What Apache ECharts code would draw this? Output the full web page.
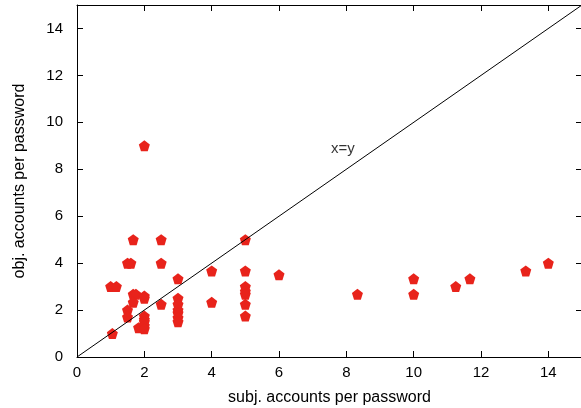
<!DOCTYPE html>
<html><head><meta charset="utf-8">
<script src="https://cdn.jsdelivr.net/npm/echarts@6/dist/echarts.min.js"></script>
<style>html,body{margin:0;padding:0;background:#fff}#c{width:581px;height:408px}</style>
</head><body><div id="c"></div>
<script>
const subjX = [1.0,1.17,1.05, 1.5,1.6,1.67,2.5,2.5, 1.67,1.75,2,2,1.67,2.5, 1.5,1.5,2,2,2,1.83,2,2, 2, 3,3,3,3,3,3,3, 4,4, 5,5,5,5,5,5,5, 6,8.33,10,10,11.25,11.67,13.33,14];
const objY  = [3,3,1, 4,4,5,5,4, 2.67,2.67,2.6,2.5,2.33,2.25, 2,1.7,1.75,1.6,1.5,1.25,1.33,1.2, 9, 3.33,2.5,2.25,2,1.875,1.67,1.5, 3.67,2.33, 5,3.67,3,2.8,2.67,2.25,1.75, 3.5,2.67,3.33,2.67,3,3.33,3.67,4];
const ticks = [0,2,4,6,8,10,12,14];
const diagLine = [[0,0],[15,15]];
const diagLabel = {text:'x=y', x:7.9, y:8.87};
const pts = subjX.map((x,i)=>[x,objY[i]]);
const font = 'Liberation Sans, Arial, sans-serif';
const pent = 'path://M0,-10 L9.51,-3.09 L5.88,8.09 L-5.88,8.09 L-9.51,-3.09Z';
const ax = (pos, show, name, gap, margin) => ({
  type:'value', min:0, max:15, interval:2, position:pos,
  name: name, nameLocation:'middle', nameGap: gap,
  nameTextStyle:{fontFamily:font,fontSize:16,color:'#000'},
  axisLine:{show:true,onZero:false,lineStyle:{color:'#000',width:1}},
  axisTick:{show:true,inside:true,length:6,lineStyle:{color:'#000'}},
  axisLabel:{show:show,fontFamily:font,fontSize:15,color:'#000',margin:margin,
    formatter:v=>ticks.includes(v)?String(v):''},
  splitLine:{show:false}
});
const chart = echarts.init(document.getElementById('c'));
chart.setOption({
  animation:false,
  grid:{left:77,top:5,width:505,height:352,containLabel:false,outerBoundsMode:'none'},
  xAxis:[ax('bottom',true,'subj. accounts per password',33,8), ax('top',false,'',0,0)],
  yAxis:[ax('left',true,'obj. accounts per password',49,14), ax('right',false,'',0,0)],
  series:[
    {type:'scatter',data:pts,symbol:pent,symbolSize:11,itemStyle:{color:'#e8231b',opacity:1},z:2},
    {type:'line',data:diagLine,showSymbol:false,lineStyle:{color:'#000',width:1},z:3,silent:true},
    {type:'scatter',data:[[diagLabel.x,diagLabel.y]],symbolSize:0,z:4,
      label:{show:true,position:'inside',formatter:diagLabel.text,fontFamily:font,fontSize:15,color:'#000'}}
  ]
});
</script></body></html>
